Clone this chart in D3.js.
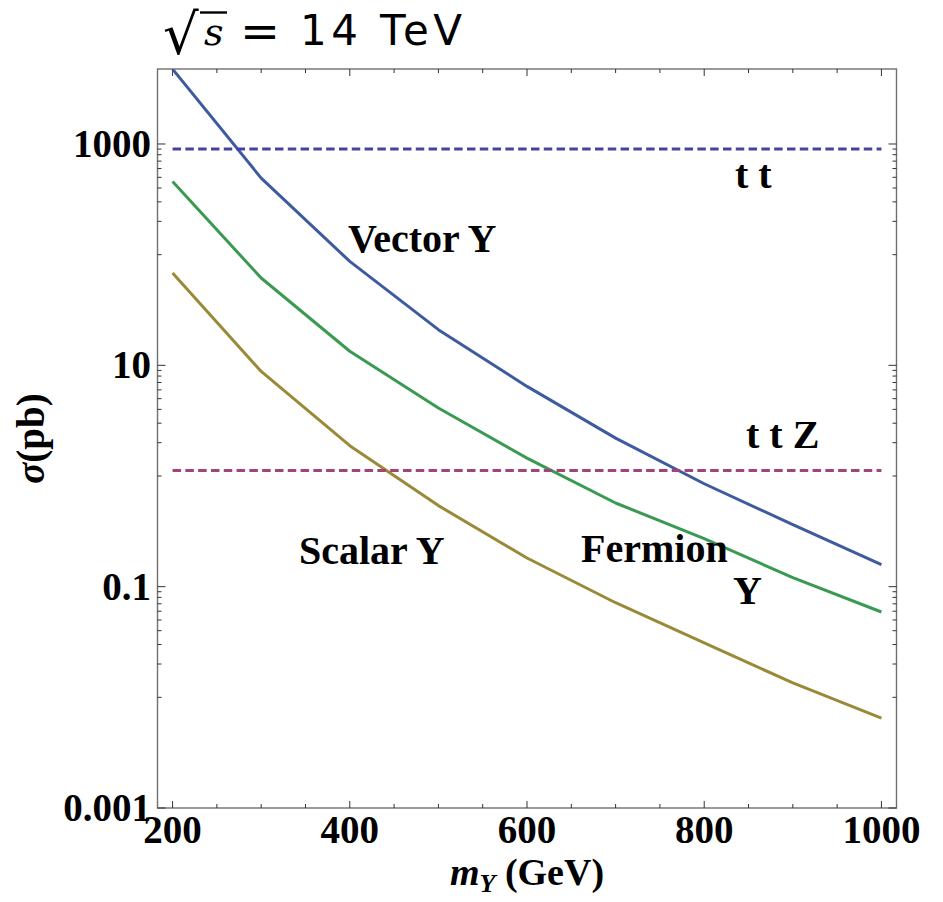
<!DOCTYPE html>
<html>
<head>
<meta charset="utf-8">
<script src="https://cdn.jsdelivr.net/npm/d3@7"></script>
<style>
  html, body { margin: 0; padding: 0; background: #fff; }
  svg { display: block; }
</style>
</head>
<body>
<svg id="chart" width="943" height="902"></svg>
<script>
// Resonance mass points (GeV)
const masses = [200, 300, 400, 500, 600, 700, 800, 900, 1000];

// Production cross sections (pb) for each spin hypothesis
const vectorY  = [4750, 492, 86.9, 21.0, 6.45, 2.20, 0.851, 0.363, 0.158];
const fermionY = [458, 61.5, 13.4, 4.11, 1.45, 0.570, 0.272, 0.1205, 0.059];
const scalarY  = [68.2, 8.81, 1.88, 0.540, 0.1815, 0.0716, 0.031, 0.0135, 0.0065];

// Background reference cross sections (pb)
const ttbarXS = 900;
const ttZXS = 1.12;

// Axis ticks
const xMajorTicks = [200, 400, 600, 800, 1000];
const xMinorTicks = [250, 300, 350, 450, 500, 550, 650, 700, 750, 850, 900, 950];
const yMajorTicks = [1000, 10, 0.1, 0.001];
const yTickLabels = ["1000", "10", "0.1", "0.001"];

const svg = d3.select("#chart");
const L = 157.5, R = 896.5, T = 69, B = 808;

const x = d3.scaleLinear().domain([183, 1017]).range([L, R]);
const y = d3.scaleLog().domain([0.001, 4760]).range([B, T]);

// Clip region for the curves
svg.append("defs").append("clipPath").attr("id", "plotClip")
  .append("rect").attr("x", L).attr("y", T).attr("width", R - L).attr("height", B - T);

const serif = "'Liberation Serif', 'Times New Roman', serif";
const frameColor = "#707070";

// Frame
svg.append("rect")
  .attr("x", L).attr("y", T).attr("width", R - L).attr("height", B - T)
  .attr("fill", "none").attr("stroke", frameColor).attr("stroke-width", 1.4);

// Ticks: x axis bottom and top (inward)
const tickG = svg.append("g").attr("stroke", "#333").attr("stroke-width", 1);
xMajorTicks.forEach(v => {
  tickG.append("line").attr("x1", x(v)).attr("x2", x(v)).attr("y1", B).attr("y2", B - 7);
  tickG.append("line").attr("x1", x(v)).attr("x2", x(v)).attr("y1", T).attr("y2", T + 7);
});
xMinorTicks.forEach(v => {
  tickG.append("line").attr("x1", x(v)).attr("x2", x(v)).attr("y1", B).attr("y2", B - 4);
  tickG.append("line").attr("x1", x(v)).attr("x2", x(v)).attr("y1", T).attr("y2", T + 4);
});

// y axis ticks (left and right, inward)
const yMinor = [];
yMajorTicks.slice(0, 3).forEach(M => {
  for (let k = 1; k <= 9; k++) yMinor.push(M * k / 10);
});
yMajorTicks.forEach(v => {
  tickG.append("line").attr("x1", L).attr("x2", L + 8).attr("y1", y(v)).attr("y2", y(v));
  tickG.append("line").attr("x1", R).attr("x2", R - 8).attr("y1", y(v)).attr("y2", y(v));
});
yMinor.forEach(v => {
  tickG.append("line").attr("x1", L).attr("x2", L + 4).attr("y1", y(v)).attr("y2", y(v));
  tickG.append("line").attr("x1", R).attr("x2", R - 4).attr("y1", y(v)).attr("y2", y(v));
});

// Tick labels
svg.append("g").selectAll("text").data(xMajorTicks).join("text")
  .attr("x", d => x(d)).attr("y", 843)
  .attr("text-anchor", "middle")
  .attr("font-family", serif).attr("font-weight", "bold").attr("font-size", 39)
  .text(d => d);

svg.append("g").selectAll("text").data(yMajorTicks).join("text")
  .attr("x", 151).attr("y", d => y(d) + 13)
  .attr("text-anchor", "end")
  .attr("font-family", serif).attr("font-weight", "bold").attr("font-size", 39)
  .text((d, i) => yTickLabels[i]);

// Curves
const line = d3.line().x(d => x(d[0])).y(d => y(d[1]));
const curves = [
  { vals: vectorY, color: "#3e5ba0" },
  { vals: fermionY, color: "#3a9a52" },
  { vals: scalarY, color: "#9a8a38" }
];
const plotG = svg.append("g").attr("clip-path", "url(#plotClip)");
curves.forEach(c => {
  plotG.append("path")
    .datum(masses.map((m, i) => [m, c.vals[i]]))
    .attr("d", line)
    .attr("fill", "none").attr("stroke", c.color).attr("stroke-width", 3)
    .attr("stroke-linejoin", "round");
});

// Background reference lines
[{ v: ttbarXS, color: "#4444a0" }, { v: ttZXS, color: "#a0447a" }].forEach(b => {
  plotG.append("line")
    .attr("x1", x(masses[0])).attr("x2", x(masses[masses.length - 1]))
    .attr("y1", y(b.v)).attr("y2", y(b.v))
    .attr("stroke", b.color).attr("stroke-width", 3)
    .attr("stroke-dasharray", "8.5,4.3");
});

// In-plot labels
const labels = [
  { t: "t t", x: 735, y: 188 },
  { t: "t t Z", x: 746, y: 448 },
  { t: "Vector Y", x: 348, y: 252 },
  { t: "Scalar Y", x: 299, y: 564 },
  { t: "Fermion", x: 581, y: 562 },
  { t: "Y", x: 733, y: 604 }
];
svg.append("g").selectAll("text").data(labels).join("text")
  .attr("x", d => d.x).attr("y", d => d.y)
  .attr("font-family", serif).attr("font-weight", "bold").attr("font-size", 40)
  .text(d => d.t);

// Axis titles
const yt = svg.append("text")
  .attr("transform", `translate(44, ${(T + B) / 2}) rotate(-90)`)
  .attr("text-anchor", "middle")
  .attr("font-family", serif).attr("font-weight", "bold").attr("font-size", 39);
yt.append("tspan").attr("font-style", "italic").text("σ");
yt.append("tspan").text("(pb)");

const xt = svg.append("text")
  .attr("x", (L + R) / 2).attr("y", 885)
  .attr("text-anchor", "middle")
  .attr("font-family", serif).attr("font-weight", "bold").attr("font-size", 38);
xt.append("tspan").attr("font-style", "italic").text("m");
xt.append("tspan").attr("font-style", "italic").attr("font-size", 26).attr("dy", 7).text("Y");
xt.append("tspan").attr("dy", -7).text(" (GeV)");

// Title: √s = 14 TeV
const title = svg.append("g");
title.append("text").attr("x", 163).attr("y", 54)
  .attr("font-family", "'DejaVu Sans', sans-serif").attr("font-size", 56)
  .text("√");
title.append("line").attr("x1", 200).attr("x2", 227).attr("y1", 12.5).attr("y2", 12.5)
  .attr("stroke", "#000").attr("stroke-width", 2.4);
title.append("text").attr("x", 204).attr("y", 45)
  .attr("font-family", "'DejaVu Serif', serif").attr("font-style", "italic").attr("font-size", 38)
  .text("s");
title.append("text").attr("x", 240).attr("y", 47)
  .attr("font-family", "'DejaVu Sans', sans-serif").attr("font-size", 46)
  .attr("textLength", 40).attr("lengthAdjust", "spacingAndGlyphs")
  .text("=");
title.append("text").attr("x", 300).attr("y", 45)
  .attr("font-family", "'DejaVu Sans', sans-serif").attr("font-size", 42)
  .attr("textLength", 162).attr("lengthAdjust", "spacing")
  .text("14 TeV");
</script>
</body>
</html>
